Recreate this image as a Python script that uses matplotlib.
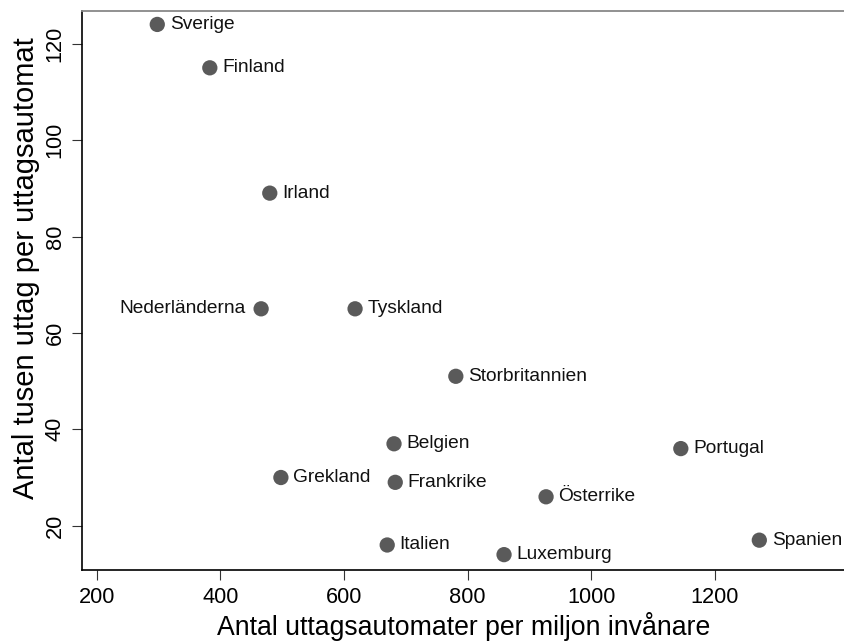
import matplotlib
matplotlib.use('Agg')
import matplotlib.pyplot as plt

plt.rcParams['font.family'] = ['Liberation Sans', 'DejaVu Sans']

countries = ['Sverige', 'Finland', 'Irland', 'Nederländerna', 'Tyskland',
             'Storbritannien', 'Belgien', 'Portugal', 'Spanien', 'Grekland',
             'Frankrike', 'Österrike', 'Italien', 'Luxemburg']
automater = [298, 383, 480, 466, 618, 781, 681, 1145, 1272, 498, 683, 927, 670, 859]
uttag = [124, 115, 89, 65, 65, 51, 37, 36, 17, 30, 29, 26, 16, 14]
left_labels = ['Nederländerna']

xticks = [200, 400, 600, 800, 1000, 1200]
yticks = [20, 40, 60, 80, 100, 120]

fig = plt.figure(figsize=(8.44, 6.44), dpi=100)
W, H = 844, 644
# axes box in pixels: left 82, top 11, bottom 570, runs past right edge
ax = fig.add_axes([82.3 / W, (H - 570.3) / H, (844 - 82.3) / W, (570.3 - 10.7) / H])

ax.scatter(automater, uttag, s=11**2, color='#5a5a5a', edgecolors='none', zorder=3)

for name, x, y in zip(countries, automater, uttag):
    if name in left_labels:
        ax.annotate(name, (x, y), xytext=(-11, 0), textcoords='offset points',
                    ha='right', va='center', fontsize=13.8, color='#111111')
    else:
        ax.annotate(name, (x, y), xytext=(9, 0), textcoords='offset points',
                    ha='left', va='center', fontsize=13.8, color='#111111')

ax.set_xlim(176.7, 1409)
ax.set_ylim(10.75, 126.85)
ax.set_xticks(xticks)
ax.set_yticks(yticks)
ax.tick_params(axis='both', length=7, width=0.8, labelsize=15.7, color='#333333')
ax.tick_params(axis='x', pad=5)
ax.tick_params(axis='y', labelrotation=90, pad=5)
for lbl in ax.get_yticklabels():
    lbl.set_va('center')

ax.spines['right'].set_visible(False)
ax.spines['top'].set_color('#888888')
ax.spines['top'].set_linewidth(1.3)
ax.spines['left'].set_linewidth(1.2)
ax.spines['bottom'].set_linewidth(1.2)

ax.set_xlabel('Antal uttagsautomater per miljon invånare', fontsize=19.2, labelpad=3)
ax.set_ylabel('Antal tusen uttag per uttagsautomat', fontsize=21)
ax.yaxis.set_label_coords(-0.056, 0.54)

fig.savefig('out.png', dpi=100)
